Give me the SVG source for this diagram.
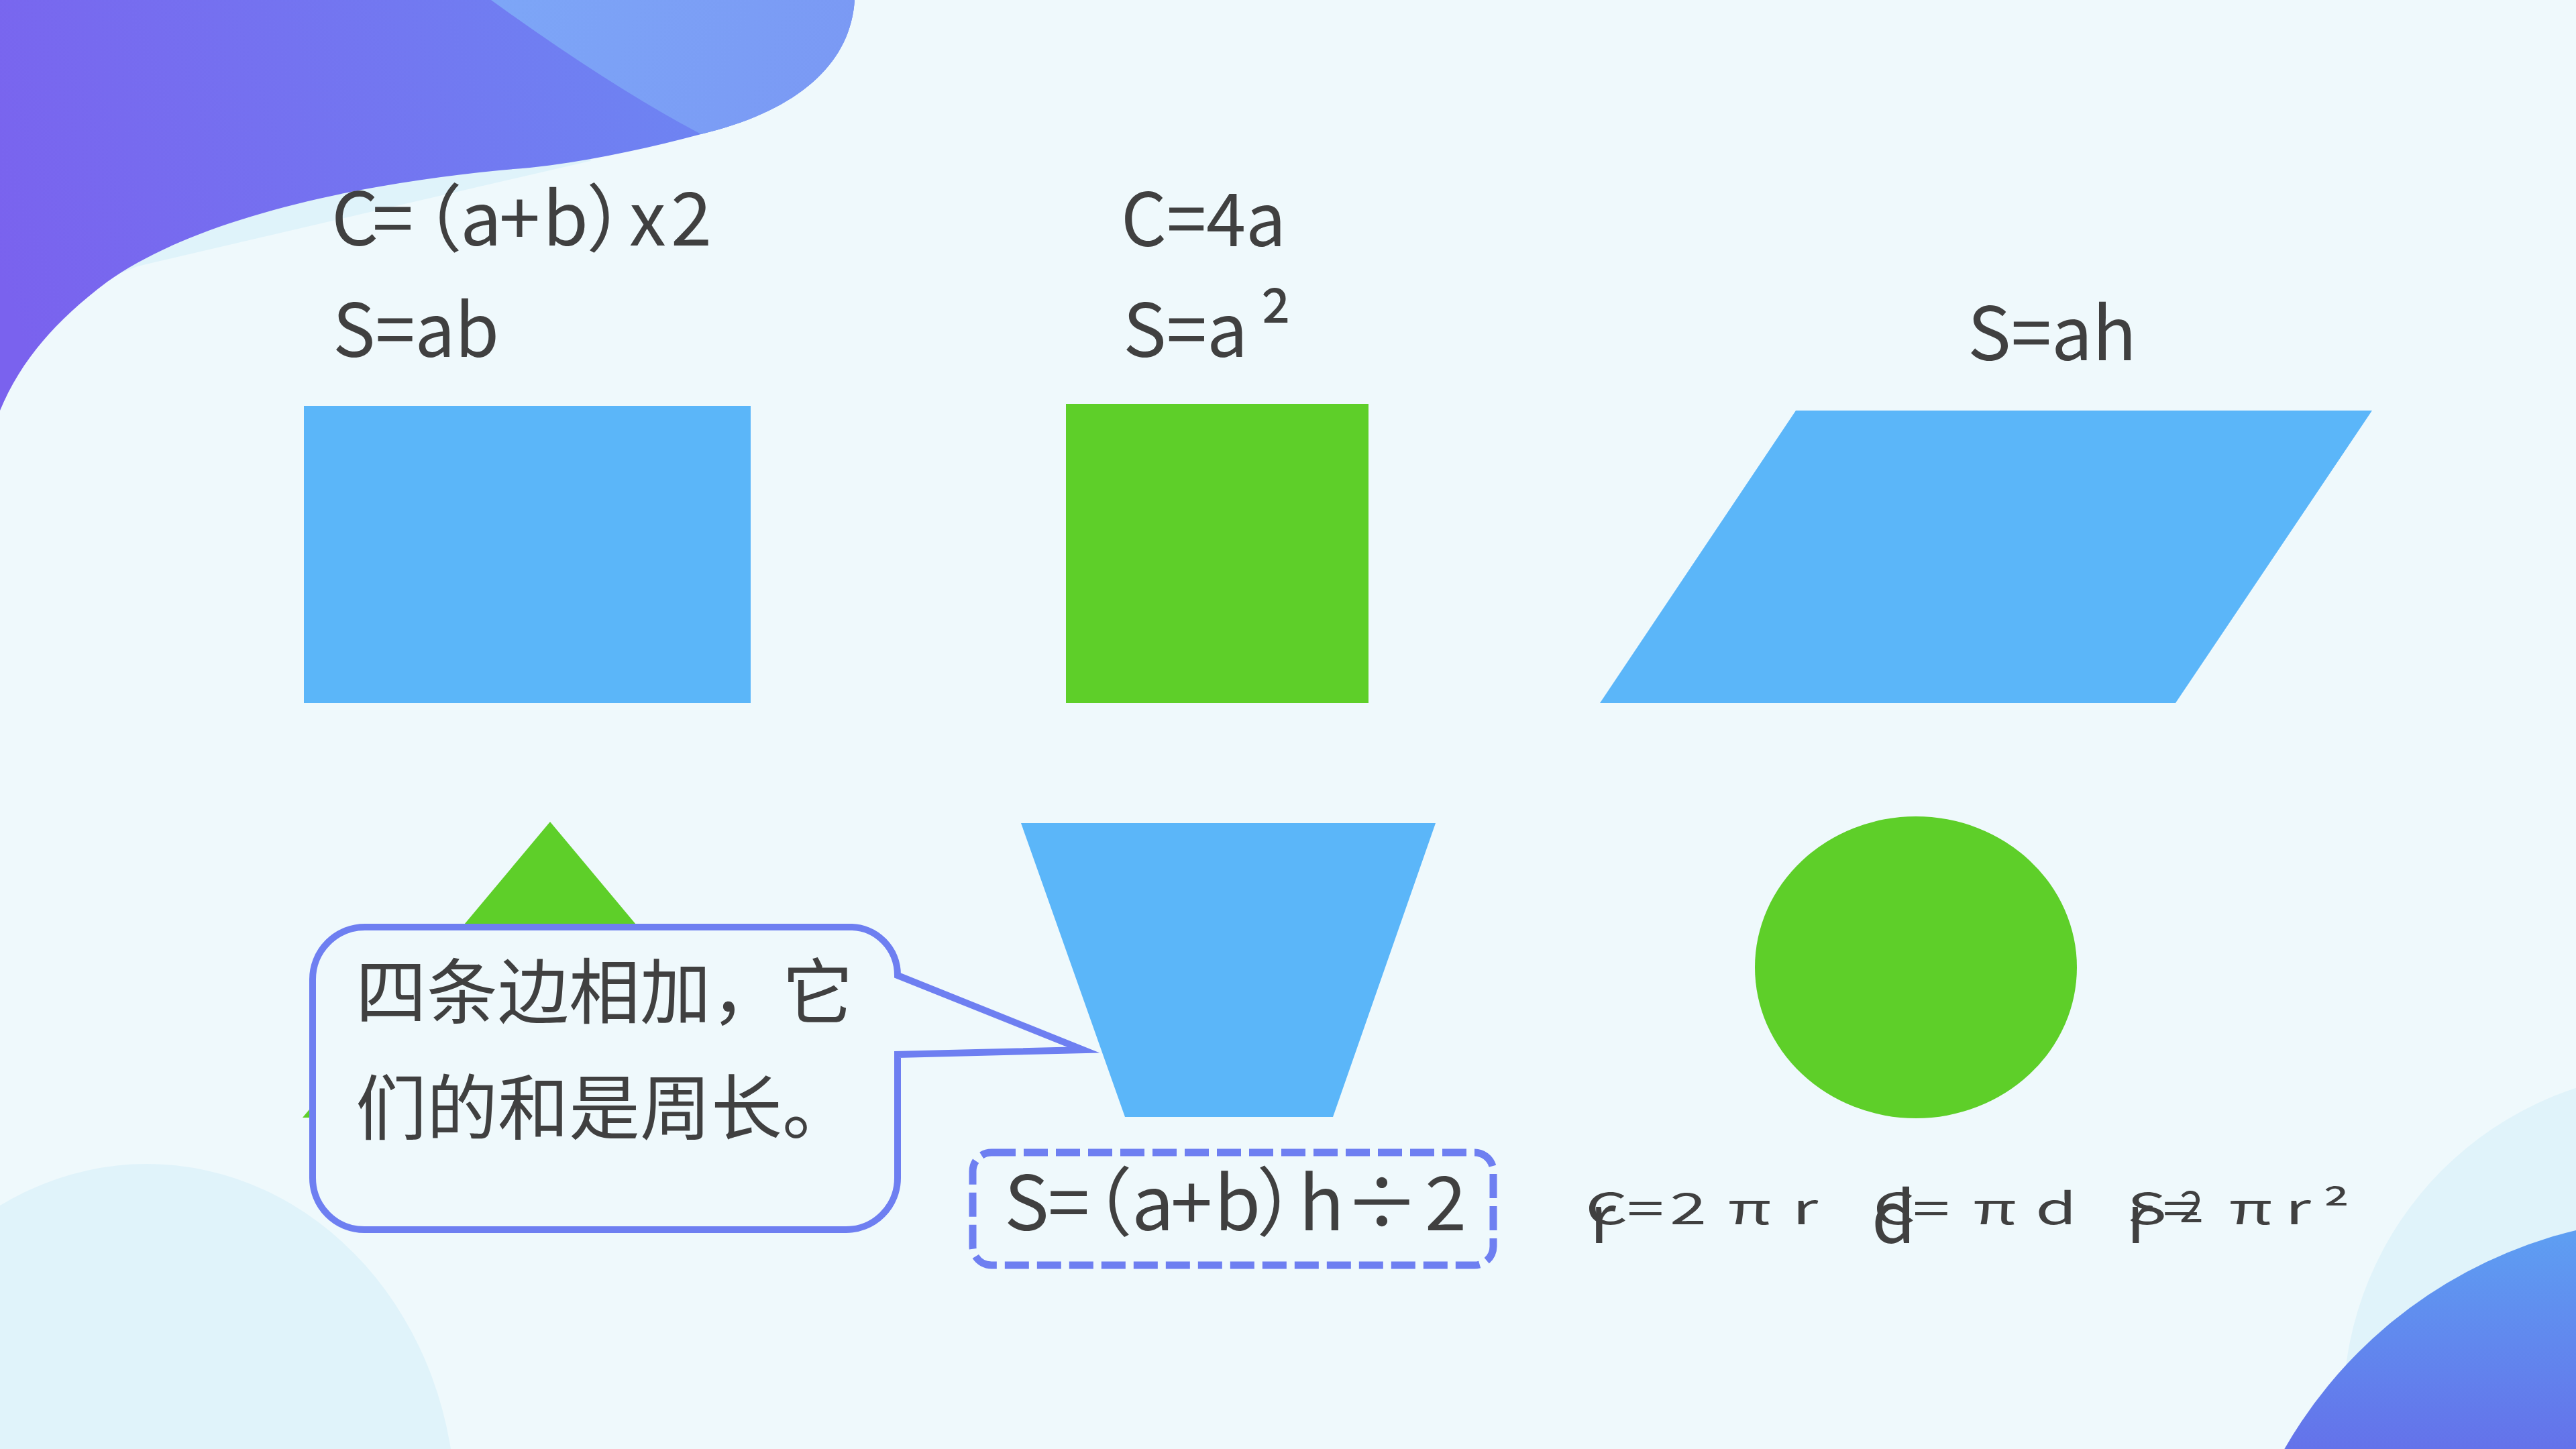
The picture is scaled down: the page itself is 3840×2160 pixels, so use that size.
<svg xmlns="http://www.w3.org/2000/svg" width="3840" height="2160" viewBox="0 0 3840 2160">
<defs>
<linearGradient id="gTL" x1="0" y1="420" x2="1150" y2="0" gradientUnits="userSpaceOnUse">
<stop offset="0" stop-color="#7A62EE"/><stop offset="1" stop-color="#6C89F3"/>
</linearGradient>
<linearGradient id="gTLlight" x1="732" y1="0" x2="1274" y2="200" gradientUnits="userSpaceOnUse">
<stop offset="0" stop-color="#7DA6F7"/><stop offset="1" stop-color="#7A98F4"/>
</linearGradient>
<linearGradient id="gBR" x1="0" y1="1840" x2="0" y2="2160" gradientUnits="userSpaceOnUse">
<stop offset="0" stop-color="#5E9EF2"/><stop offset="1" stop-color="#6472EA"/>
</linearGradient>
<style>
.f{font-family:"Noto Sans CJK SC","Liberation Sans",sans-serif;fill:#404040}
.blue{fill:#5BB6F9}
.green{fill:#5ECF29}
.line{fill:#EFF9FC;stroke:#6E7FF1;stroke-width:10}
</style>
</defs>
<rect width="3840" height="2160" fill="#EFF9FC"/>
<g id="background">
<path d="M0,0 H1000 L880,240 Q620,300 205,397 L0,480 Z" fill="#DFF3FA"/>
<path d="M0,0 H1274 C1268,95 1190,165 1045,200 C960,222 880,240 790,250 C560,268 300,320 160,420 C80,480 30,540 0,612 Z" fill="url(#gTL)"/>
<path d="M732,0 Q912,130 1045,200 C1190,165 1268,95 1274,0 Z" fill="url(#gTLlight)"/>
<ellipse cx="219" cy="2250" rx="460" ry="515" fill="#E0F3FA"/>
<circle cx="3996" cy="2100" r="503" fill="#E0F3FA"/>
<circle cx="4000" cy="2500" r="685" fill="url(#gBR)"/>
</g>
<g id="rectangle">
<rect class="blue" x="453" y="605" width="666" height="443"/>
<text class="f" font-size="110" x="494 555 579 686 744 809 874 938 1000" y="366">C=（a+b）x2</text>
<text class="f" x="496" y="532" font-size="110" textLength="248" lengthAdjust="spacingAndGlyphs">S=ab</text>
</g>
<g id="square">
<rect class="green" x="1589" y="602" width="451" height="446"/>
<text class="f" x="1671" y="367" font-size="110" textLength="246" lengthAdjust="spacingAndGlyphs">C=4a</text>
<text class="f" x="1674" y="532" font-size="110" textLength="186" lengthAdjust="spacingAndGlyphs">S=a</text>
<text class="f" x="1878" y="532" font-size="115">²</text>
</g>
<g id="parallelogram">
<polygon class="blue" points="2677,612 3536,612 3243,1048 2385,1048"/>
<text class="f" x="2933" y="537" font-size="110" textLength="252" lengthAdjust="spacingAndGlyphs">S=ah</text>
</g>
<g id="triangle">
<polygon class="green" points="820,1225 1189,1666 451,1666"/>
</g>
<g id="trapezoid">
<polygon class="blue" points="1522,1227 2140,1227 1987,1665 1677,1665"/>
<rect x="1450" y="1718" width="776" height="168" rx="28" fill="none" stroke="#6E7FF1" stroke-width="11" stroke-dasharray="36 12"/>
<text class="f" font-size="112" x="1497 1562 1576 1687 1745 1810 1873 1936 2004 2124" y="1834">S=（a+b）h÷2</text>
</g>
<g id="circle">
<ellipse class="green" cx="2856" cy="1442" rx="240" ry="225"/>
<text class="f" font-size="64" transform="translate(2368,1825) scale(1.55,1)" x="-3 37 78 134 196" y="0">C=2πr</text>
<text class="f" x="2370" y="1853" font-size="100">r</text>
<text class="f" font-size="64" transform="translate(2797,1825) scale(1.55,1)" x="-3 35 93 153" y="0">C=πd</text>
<text class="f" x="2790" y="1853" font-size="106">d</text>
<text class="f" font-size="64" transform="translate(3177,1825) scale(1.55,1)" x="-4 30 94 148 184" y="0">S=πr²</text>
<text class="f" x="3249" y="1822" font-size="64">2</text>
<text class="f" x="3170" y="1853" font-size="100">r</text>
</g>
<g id="callout">
<path class="line" stroke-miterlimit="12" d="M544,1382 H1268 A70,72 0 0 1 1338,1454 L1615,1565 L1338,1572 V1756 A77,77 0 0 1 1261,1833 H543 A77,77 0 0 1 466,1756 V1460 A78,78 0 0 1 544,1382 Z"/>
<text class="f" x="530" y="1517" font-size="106">四条边相加，它</text>
<text class="f" x="530" y="1690" font-size="106">们的和是周长。</text>
</g>
<g id="connectors"/>
</svg>
